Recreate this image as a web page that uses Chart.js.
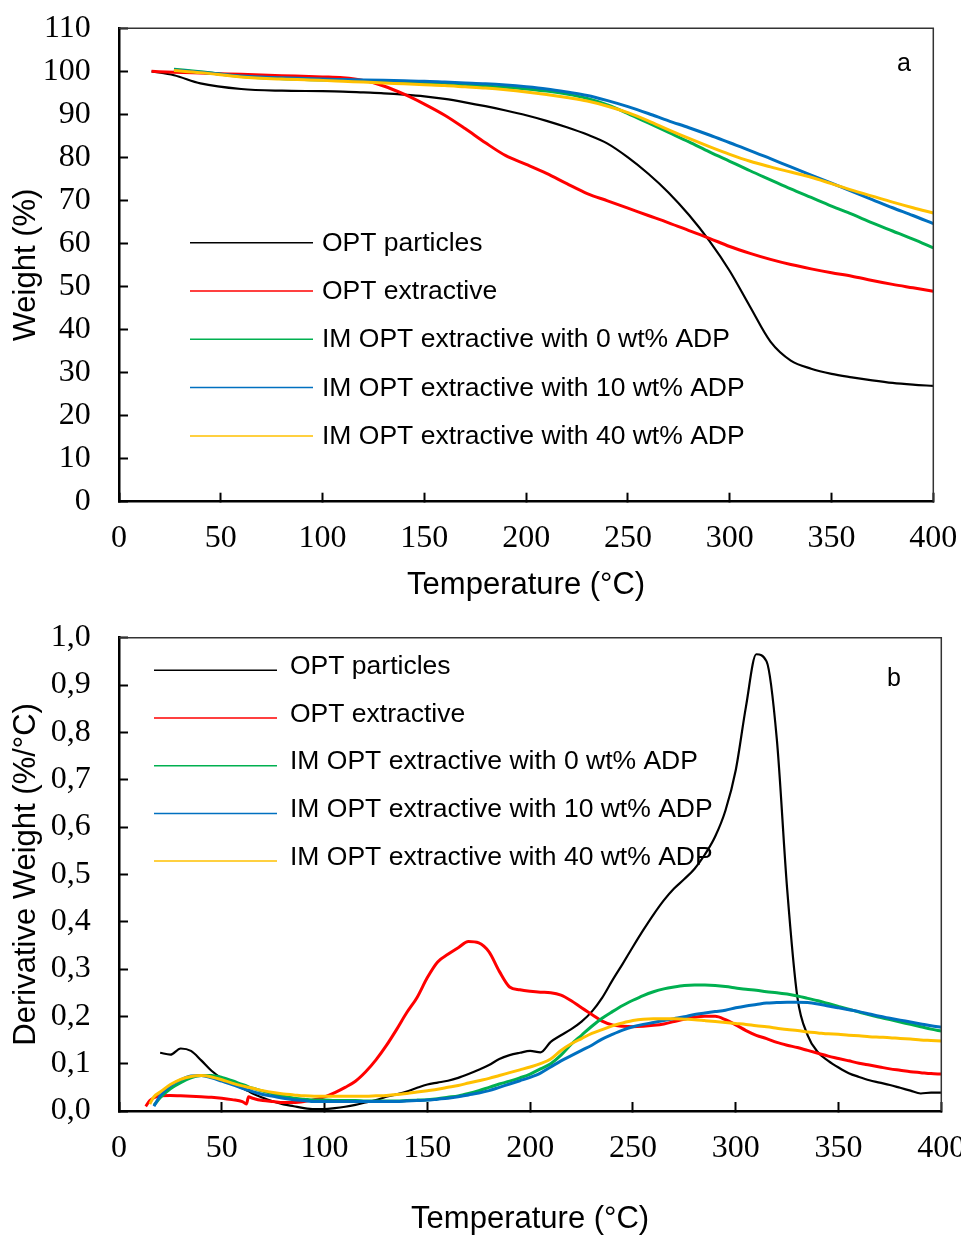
<!DOCTYPE html>
<html>
<head>
<meta charset="utf-8">
<title>TGA / DTG of OPT samples</title>
<script src="https://cdn.jsdelivr.net/npm/chart.js@4.4.1/dist/chart.umd.min.js"></script>
<style>
  html, body { margin: 0; padding: 0; background: #fff; }
  #wrap { position: relative; width: 961px; height: 1236px; overflow: hidden; }
  #tgaChart { position: absolute; left: 0; top: 0; }
  #dtgChart { position: absolute; left: 0; top: 610px; }
</style>
</head>
<body>
<div id="wrap">
  <canvas id="tgaChart" width="961" height="610"></canvas>
  <canvas id="dtgChart" width="961" height="626"></canvas>
</div>
<script>
// Series shared by both panels
var seriesNames = ['OPT particles', 'OPT extractive', 'IM OPT extractive with 0 wt% ADP',
  'IM OPT extractive with 10 wt% ADP', 'IM OPT extractive with 40 wt% ADP'];
var seriesColors = ['#000000', '#ff0000', '#00b050', '#0070c0', '#ffc000'];

// (a) weight (%) vs temperature (°C)
var tgaTemps = [16, 27, 40, 60, 80, 100, 110, 120, 130, 140, 150, 160, 170, 180, 190, 200, 210, 220,
  230, 240, 250, 260, 270, 280, 290, 300, 310, 320, 330, 340, 350, 360, 370, 380, 390, 400];
var tgaParticles = [100, 99.1, 97.2, 95.9, 95.5, 95.4, 95.3, 95.1, 94.9, 94.6, 94.2, 93.6, 92.8, 91.9, 90.9, 89.8, 88.5, 87.0,
  85.3, 83.2, 80.0, 76.2, 71.8, 66.6, 60.6, 53.6, 45.3, 37.2, 32.8, 30.9, 29.7, 28.9, 28.2, 27.6, 27.2, 26.9];
var tgaExtractive = [100, 99.8, 99.6, 99.3, 99.0, 98.7, 98.5, 97.9, 96.6, 94.7, 92.4, 89.8, 86.7, 83.4, 80.4, 78.4, 76.3, 73.9,
  71.6, 69.9, 68.2, 66.5, 64.8, 63.0, 61.2, 59.3, 57.7, 56.3, 55.1, 54.1, 53.2, 52.4, 51.4, 50.5, 49.7, 48.9];
var tgaAdp0 = [null, 100.5, 99.9, 98.8, 98.3, 98.0, 97.9, 97.8, 97.6, 97.5, 97.3, 97.1, 96.9, 96.6, 96.3, 95.9, 95.4, 94.7,
  93.7, 92.2, 90.2, 88.0, 85.8, 83.6, 81.3, 79.1, 76.9, 74.8, 72.7, 70.7, 68.7, 66.8, 64.8, 62.9, 61.0, 59.0];
var tgaAdp10 = [null, 100.3, 99.8, 98.9, 98.5, 98.2, 98.1, 98.0, 97.9, 97.8, 97.7, 97.5, 97.3, 97.1, 96.8, 96.4, 95.9, 95.2,
  94.4, 93.2, 91.8, 90.2, 88.5, 86.9, 85.2, 83.4, 81.6, 79.7, 77.8, 75.9, 74.0, 72.1, 70.2, 68.3, 66.5, 64.6];
var tgaAdp40 = [null, 100.2, 99.7, 98.7, 98.2, 97.9, 97.7, 97.5, 97.3, 97.1, 96.9, 96.7, 96.4, 96.1, 95.7, 95.2, 94.6, 93.9,
  93.1, 91.9, 90.4, 88.5, 86.4, 84.4, 82.5, 80.7, 79.1, 77.8, 76.6, 75.4, 73.9, 72.4, 71.0, 69.6, 68.3, 67.1];

// (b) derivative weight (%/°C) vs temperature (°C)
var dtgTemps = [13, 15, 17, 20, 25, 30, 35, 40, 45, 50, 55, 60, 62, 63,
  65, 70, 75, 80, 85, 90, 95, 100, 105, 110, 115, 120, 125, 130,
  135, 140, 145, 150, 155, 160, 165, 170, 175, 180, 185, 190, 195, 200,
  205, 210, 215, 220, 225, 230, 235, 240, 245, 250, 255, 260, 265, 270,
  275, 280, 285, 290, 295, 300, 305, 310, 315, 320, 325, 330, 335, 340,
  345, 350, 355, 360, 365, 370, 375, 380, 385, 390, 395, 400];
var dtgParticles = [null, null, null, 0.123, 0.119, 0.132, 0.127, 0.107, 0.085, 0.069, 0.058, 0.048, 0.044, 0.042,
  0.037, 0.028, 0.020, 0.014, 0.010, 0.006, 0.004, 0.004, 0.006, 0.009, 0.013, 0.018, 0.023, 0.030,
  0.035, 0.041, 0.049, 0.056, 0.060, 0.064, 0.070, 0.078, 0.087, 0.097, 0.110, 0.118, 0.123, 0.127,
  0.124, 0.146, 0.160, 0.173, 0.189, 0.210, 0.239, 0.276, 0.311, 0.347, 0.382, 0.415, 0.445, 0.470,
  0.490, 0.512, 0.542, 0.580, 0.635, 0.720, 0.855, 0.965, 0.950, 0.785, 0.470, 0.240, 0.160, 0.124,
  0.106, 0.092, 0.080, 0.072, 0.065, 0.060, 0.055, 0.049, 0.043, 0.037, 0.039, 0.039];
var dtgExtractive = [0.010, 0.022, 0.028, 0.032, 0.033, 0.032, 0.031, 0.030, 0.029, 0.027, 0.024, 0.020, 0.015, 0.030,
  0.027, 0.022, 0.020, 0.018, 0.018, 0.020, 0.024, 0.030, 0.039, 0.050, 0.063, 0.083, 0.108, 0.138,
  0.172, 0.208, 0.240, 0.282, 0.315, 0.331, 0.345, 0.358, 0.355, 0.336, 0.295, 0.262, 0.256, 0.253,
  0.251, 0.250, 0.245, 0.233, 0.218, 0.204, 0.190, 0.182, 0.179, 0.178, 0.179, 0.181, 0.184, 0.189,
  0.194, 0.198, 0.200, 0.200, 0.193, 0.182, 0.170, 0.160, 0.153, 0.145, 0.139, 0.134, 0.128, 0.122,
  0.116, 0.111, 0.106, 0.101, 0.097, 0.093, 0.089, 0.086, 0.083, 0.081, 0.079, 0.078];
var dtgAdp0 = [null, null, 0.012, 0.028, 0.047, 0.060, 0.070, 0.075, 0.075, 0.071, 0.064, 0.056, 0.053, 0.051,
  0.048, 0.042, 0.036, 0.031, 0.027, 0.025, 0.023, 0.023, 0.022, 0.022, 0.022, 0.021, 0.021, 0.021,
  0.021, 0.022, 0.023, 0.024, 0.026, 0.029, 0.032, 0.037, 0.043, 0.050, 0.057, 0.063, 0.070, 0.078,
  0.089, 0.100, 0.118, 0.141, 0.160, 0.179, 0.196, 0.210, 0.223, 0.234, 0.244, 0.252, 0.258, 0.262,
  0.265, 0.266, 0.266, 0.265, 0.263, 0.260, 0.257, 0.255, 0.252, 0.250, 0.247, 0.243, 0.238, 0.233,
  0.227, 0.221, 0.215, 0.209, 0.203, 0.198, 0.193, 0.188, 0.183, 0.178, 0.173, 0.169];
var dtgAdp10 = [null, null, 0.010, 0.032, 0.053, 0.066, 0.074, 0.075, 0.070, 0.063, 0.056, 0.048, 0.045, 0.044,
  0.041, 0.035, 0.031, 0.027, 0.024, 0.022, 0.020, 0.020, 0.020, 0.020, 0.020, 0.020, 0.020, 0.020,
  0.020, 0.021, 0.022, 0.023, 0.025, 0.027, 0.030, 0.034, 0.038, 0.043, 0.050, 0.057, 0.064, 0.071,
  0.080, 0.093, 0.106, 0.117, 0.128, 0.139, 0.152, 0.162, 0.171, 0.178, 0.183, 0.187, 0.191, 0.195,
  0.199, 0.204, 0.207, 0.210, 0.213, 0.218, 0.222, 0.225, 0.228, 0.229, 0.230, 0.230, 0.229, 0.226,
  0.222, 0.218, 0.214, 0.210, 0.205, 0.200, 0.196, 0.192, 0.188, 0.184, 0.180, 0.177];
var dtgAdp40 = [null, 0.015, 0.030, 0.040, 0.056, 0.067, 0.073, 0.075, 0.072, 0.066, 0.059, 0.053, 0.051, 0.050,
  0.048, 0.043, 0.039, 0.036, 0.034, 0.032, 0.031, 0.031, 0.031, 0.031, 0.031, 0.031, 0.032, 0.033,
  0.035, 0.037, 0.040, 0.043, 0.046, 0.050, 0.054, 0.059, 0.064, 0.069, 0.075, 0.081, 0.087, 0.093,
  0.100, 0.110, 0.128, 0.142, 0.153, 0.164, 0.172, 0.180, 0.186, 0.191, 0.194, 0.195, 0.195, 0.195,
  0.194, 0.193, 0.191, 0.189, 0.187, 0.185, 0.183, 0.180, 0.178, 0.175, 0.172, 0.170, 0.167, 0.165,
  0.163, 0.162, 0.160, 0.159, 0.157, 0.156, 0.155, 0.153, 0.152, 0.150, 0.149, 0.148];

var sansFont = '"Liberation Sans", Arial, sans-serif';
var serifFont = '"Liberation Serif", "Times New Roman", serif';

// pair x and y arrays into {x, y} points, dropping missing values
function toPoints(xs, ys) {
  return xs.map(function(x, i) { return { x: x, y: ys[i] }; })
    .filter(function(p) { return p.y !== null; });
}

function makeDatasets(temps, seriesList) {
  return seriesList.map(function(vals, i) {
    return {
      label: seriesNames[i],
      data: toPoints(temps, vals),
      borderColor: seriesColors[i],
      backgroundColor: seriesColors[i],
      borderWidth: i === 0 ? 2.2 : 3,
      pointRadius: 0,
      fill: false,
      cubicInterpolationMode: 'monotone',
      order: seriesList.length - i // Excel-like: later series on top
    };
  });
}

// legend inside the plot, panel letter, thin top/right frame
var panelDecor = {
  id: 'panelDecor',
  beforeDatasetsDraw: function(chart, args, opts) {
    var ctx = chart.ctx;
    ctx.save();
    ctx.font = '26.5px ' + sansFont;
    ctx.textBaseline = 'middle';
    ctx.textAlign = 'left';
    chart.data.datasets.forEach(function(ds, i) {
      var y = opts.legendY + i * opts.legendGap;
      ctx.strokeStyle = ds.borderColor;
      ctx.lineWidth = 1.5;
      ctx.beginPath();
      ctx.moveTo(opts.legendX, y);
      ctx.lineTo(opts.legendX + 123, y);
      ctx.stroke();
      ctx.fillStyle = '#000';
      ctx.fillText(ds.label, opts.textX, y + opts.textDy);
    });
    ctx.font = '25px ' + sansFont;
    ctx.textAlign = 'center';
    ctx.fillText(opts.letter, opts.letterX, opts.letterY);
    ctx.restore();
  },
  afterDraw: function(chart) {
    var ctx = chart.ctx, a = chart.chartArea;
    ctx.save();
    ctx.strokeStyle = '#333';
    ctx.lineWidth = 1.5;
    ctx.beginPath();
    ctx.moveTo(a.left, a.top);
    ctx.lineTo(a.right, a.top);
    ctx.lineTo(a.right, a.bottom);
    ctx.stroke();
    ctx.restore();
  }
};

function makeOptions(cfg) {
  var tickGrid = { drawOnChartArea: false, tickLength: -9, tickColor: '#000', tickWidth: 2, color: '#000' };
  return {
    responsive: false,
    animation: false,
    events: [],
    layout: { padding: { top: cfg.top, right: cfg.right, left: 0, bottom: 0 } },
    plugins: {
      legend: { display: false },
      tooltip: { enabled: false },
      panelDecor: cfg.decor
    },
    scales: {
      x: {
        type: 'linear', min: 0, max: 400,
        border: { color: '#000', width: 2.5 },
        grid: tickGrid,
        ticks: { stepSize: 50, color: '#000', padding: cfg.xTickPad, maxRotation: 0,
          font: { family: serifFont, size: 32, lineHeight: 1 } },
        title: { display: true, text: 'Temperature (°C)', color: '#000',
          font: { family: sansFont, size: 31, lineHeight: 1 }, padding: { top: 0, bottom: cfg.xTitlePad } },
        afterFit: function(s) { s.height = cfg.xHeight; s.paddingLeft = 0; s.paddingRight = 0; }
      },
      y: {
        type: 'linear', min: 0, max: cfg.yMax,
        border: { color: '#000', width: 2.5 },
        grid: tickGrid,
        ticks: { stepSize: cfg.yStep, color: '#000', padding: 37.3, callback: cfg.yFormat,
          font: { family: serifFont, size: 32, lineHeight: 1 } },
        title: { display: true, text: cfg.yTitle, color: '#000',
          font: { family: sansFont, size: 31, lineHeight: 1 }, padding: { top: 11.3, bottom: 0 } },
        afterFit: function(s) { s.width = 119; s.paddingTop = 0; s.paddingBottom = 0; }
      }
    }
  };
}

// (a) TGA
new Chart(document.getElementById('tgaChart').getContext('2d'), {
  type: 'line',
  data: { datasets: makeDatasets(tgaTemps, [tgaParticles, tgaExtractive, tgaAdp0, tgaAdp10, tgaAdp40]) },
  options: makeOptions({
    top: 28.3, right: 27.7, xHeight: 108.3, xTickPad: 30.3, xTitlePad: 9.5,
    yMax: 110, yStep: 10, yTitle: 'Weight (%)',
    yFormat: function(v) { return v; },
    decor: { legendX: 190, legendY: 242.7, legendGap: 48.3, textX: 322, textDy: 0.6,
      letter: 'a', letterX: 904, letterY: 64 }
  }),
  plugins: [panelDecor]
});

// (b) DTG
new Chart(document.getElementById('dtgChart').getContext('2d'), {
  type: 'line',
  data: { datasets: makeDatasets(dtgTemps, [dtgParticles, dtgExtractive, dtgAdp0, dtgAdp10, dtgAdp40]) },
  options: makeOptions({
    top: 27.7, right: 19.7, xHeight: 125, xTickPad: 31, xTitlePad: 1.5,
    yMax: 1.0, yStep: 0.1, yTitle: 'Derivative Weight (%/°C)',
    yFormat: function(v) { return v.toFixed(1).replace('.', ','); },
    decor: { legendX: 154, legendY: 60.3, legendGap: 47.7, textX: 290, textDy: -3.6,
      letter: 'b', letterX: 894, letterY: 69.3 }
  }),
  plugins: [panelDecor]
});
</script>
</body>
</html>
